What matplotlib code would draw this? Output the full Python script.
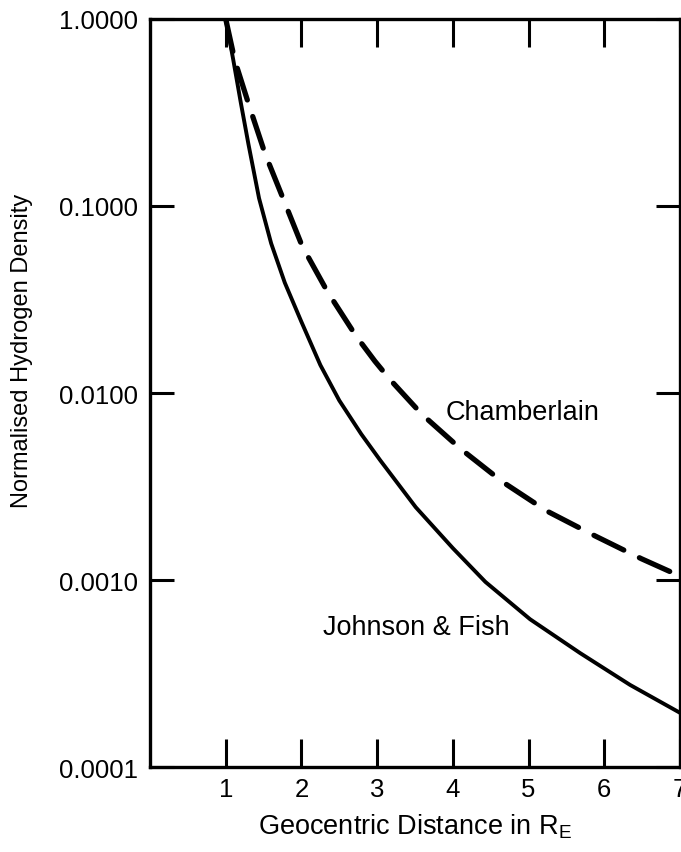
import numpy as np
import matplotlib

matplotlib.use('Agg')
import matplotlib.pyplot as plt

# Johnson & Fish (solid)
jf_x = [1.0, 1.1, 1.2, 1.3, 1.44, 1.6, 1.78, 2.0, 2.25, 2.5, 2.79, 3.04, 3.51,
        4.0, 4.43, 5.02, 5.68, 6.34, 7.0]
jf_y = [1.0, 0.603, 0.355, 0.214, 0.110, 0.0631, 0.0389, 0.0240, 0.0141, 0.00912,
        0.00603, 0.00437, 0.00245, 0.00148, 0.000977, 0.000617, 0.000407,
        0.000275, 0.000195]

# Chamberlain (dashed)
ch_x = [1.0, 1.12, 1.31, 1.52, 1.76, 2.01, 2.34, 2.72, 2.97, 3.17, 3.59, 4.11, 4.66,
        5.24, 5.88, 6.49, 7.0]
ch_y = [1.0, 0.6, 0.343, 0.19, 0.109, 0.061, 0.035, 0.0202, 0.0148, 0.0118, 0.0077,
        0.0050, 0.00334, 0.00234, 0.00172, 0.00130, 0.00105]

x_ticks = [1, 2, 3, 4, 5, 6, 7]
y_ticks = [0.0001, 0.001, 0.01, 0.1, 1.0]
y_tick_labels = ['0.0001', '0.0010', '0.0100', '0.1000', '1.0000']

plt.rcParams['font.family'] = ['Liberation Sans', 'DejaVu Sans']
plt.rcParams['mathtext.default'] = 'regular'

fig = plt.figure(figsize=(6.81, 8.53), dpi=100)
ax = fig.add_axes([0.2203, 0.0996, 0.7782, 0.877])

ax.plot(jf_x, jf_y, color='black', linewidth=2.8, solid_capstyle='round',
        solid_joinstyle='round')
ax.plot(ch_x, ch_y, color='black', linewidth=3.8, dashes=(6.3, 3.3),
        dash_capstyle='round', dash_joinstyle='round')

ax.set_yscale('log')
ax.set_xlim(0, 7)
ax.set_ylim(0.0001, 1.0)
ax.set_xticks(x_ticks)
ax.set_xticklabels([str(v) for v in x_ticks])
ax.set_yticks(y_ticks)
ax.set_yticklabels(y_tick_labels)
ax.minorticks_off()

ax.tick_params(axis='both', direction='in', length=20, width=2.2,
               top=True, right=True, labelsize=18.5, pad=7)
ax.tick_params(axis='y', length=17, pad=9)

for s in ax.spines.values():
    s.set_linewidth(2.4)

ax.text(3.91, 0.0079, 'Chamberlain', fontsize=19.5, va='center', ha='left')
ax.text(2.29, 0.00056, 'Johnson & Fish', fontsize=19.5, va='center', ha='left')

ax.set_xlabel('Geocentric Distance in R$_E$', fontsize=19.5, labelpad=8)
ax.set_ylabel('Normalised Hydrogen Density', fontsize=17)
ax.yaxis.set_label_coords(-0.221, 0.557)

plt.savefig('out.png', dpi=100)
